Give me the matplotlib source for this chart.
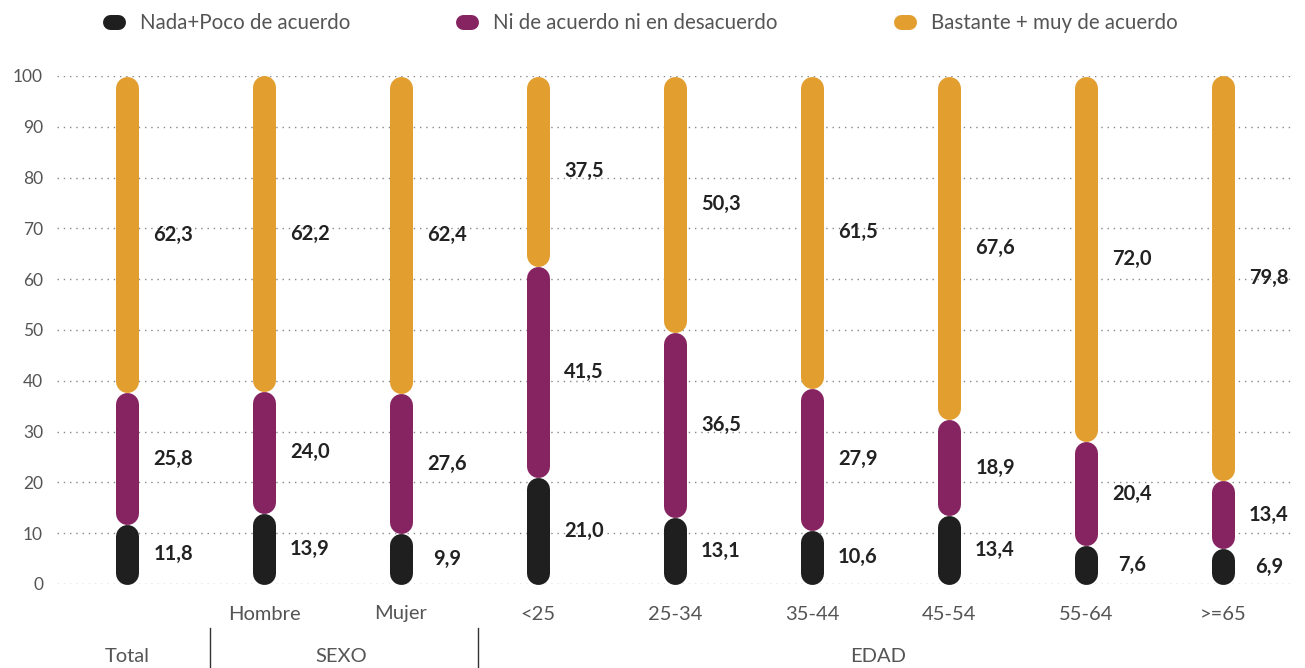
import matplotlib
matplotlib.use("Agg")
import matplotlib.pyplot as plt
from matplotlib.lines import Line2D
import numpy as np

categories = ["Total", "Hombre", "Mujer", "<25", "25-34", "35-44", "45-54", "55-64", ">=65"]
nada_poco = [11.8, 13.9, 9.9, 21.0, 13.1, 10.6, 13.4, 7.6, 6.9]
ni_ni = [25.8, 24.0, 27.6, 41.5, 36.5, 27.9, 18.9, 20.4, 13.4]
bastante_muy = [62.3, 62.2, 62.4, 37.5, 50.3, 61.5, 67.6, 72.0, 79.8]
series_names = ["Nada+Poco de acuerdo", "Ni de acuerdo ni en desacuerdo", "Bastante + muy de acuerdo"]
colors = ["#1f1f1f", "#862461", "#e29e2f"]
yticks = [0, 10, 20, 30, 40, 50, 60, 70, 80, 90, 100]
group_names = ["Total", "SEXO", "EDAD"]

W, H = 1305, 668
fig = plt.figure(figsize=(W / 100, H / 100), dpi=100)
plt.rcParams['font.family'] = ['Lato', 'DejaVu Sans']

ax_left, ax_right = 57, 1293
ax_top, ax_bottom = 76, 584
ax = fig.add_axes([ax_left / W, 1 - ax_bottom / H, (ax_right - ax_left) / W, (ax_bottom - ax_top) / H])
ax.set_xlim(-0.511, 8.511)
ax.set_ylim(0, 100)
for s in ax.spines.values():
    s.set_visible(False)
ax.set_xticks([])
ax.set_yticks(yticks)
ax.tick_params(axis='y', length=0, pad=10, labelsize=12.5, labelcolor="#555555")
for t in yticks:
    ax.axhline(t, color="#888888", lw=1.0, linestyle=(0, (1, 3.5)), zorder=0)

px_per_unit = (ax_bottom - ax_top) / 100.0
bar_px = 23
r = (bar_px / 2) / px_per_unit
lw_pt = bar_px * 72 / 100
x = np.arange(len(categories))
data = [nada_poco, ni_ni, bastante_muy]
bottom = np.zeros(len(categories))
for vals, c in zip(data, colors):
    for i, v in enumerate(vals):
        y0 = bottom[i] + r
        y1 = bottom[i] + v - r
        ax.plot([x[i], x[i]], [y0, y1], color=c, lw=lw_pt, solid_capstyle='round', clip_on=False, zorder=3)
        ax.text(x[i] + 0.336, bottom[i] + v / 2, f"{v:.1f}".replace(".", ","), ha='center', va='center',
                fontsize=14.5, fontweight='bold', color="#222222")
    bottom += np.array(vals)

bt = matplotlib.transforms.blended_transform_factory(ax.transData, fig.transFigure)
# category labels (first row); Total is shown in the group row
for i, c in enumerate(categories):
    if i == 0:
        continue
    ax.text(x[i], 1 - 614 / H, c, transform=bt, ha='center', va='center', fontsize=14.5, color="#555555")

group_x = [0.0, 1.562, 5.48]
for name, gx in zip(group_names, group_x):
    ax.text(gx, 1 - 657 / H, name, transform=bt, ha='center', va='center', fontsize=14.5, color="#555555")
for sep in [0.606, 2.562]:
    ax.add_artist(Line2D([sep, sep], [0, 1 - 628 / H], transform=bt, color="#333333", lw=1, clip_on=False))

# legend
leg_x = [114, 467, 905]
leg_y = 22
for name, c, lx in zip(series_names, colors, leg_x):
    fig.add_artist(Line2D([(lx - 4) / W, (lx + 4) / W], [1 - leg_y / H] * 2, color=c, lw=15 * 72 / 100,
                          solid_capstyle='round'))
    fig.text((lx + 26) / W, 1 - (leg_y + 1) / H, name, ha='left', va='center', fontsize=14.8, color="#555555")

fig.savefig("out.png", dpi=100)
